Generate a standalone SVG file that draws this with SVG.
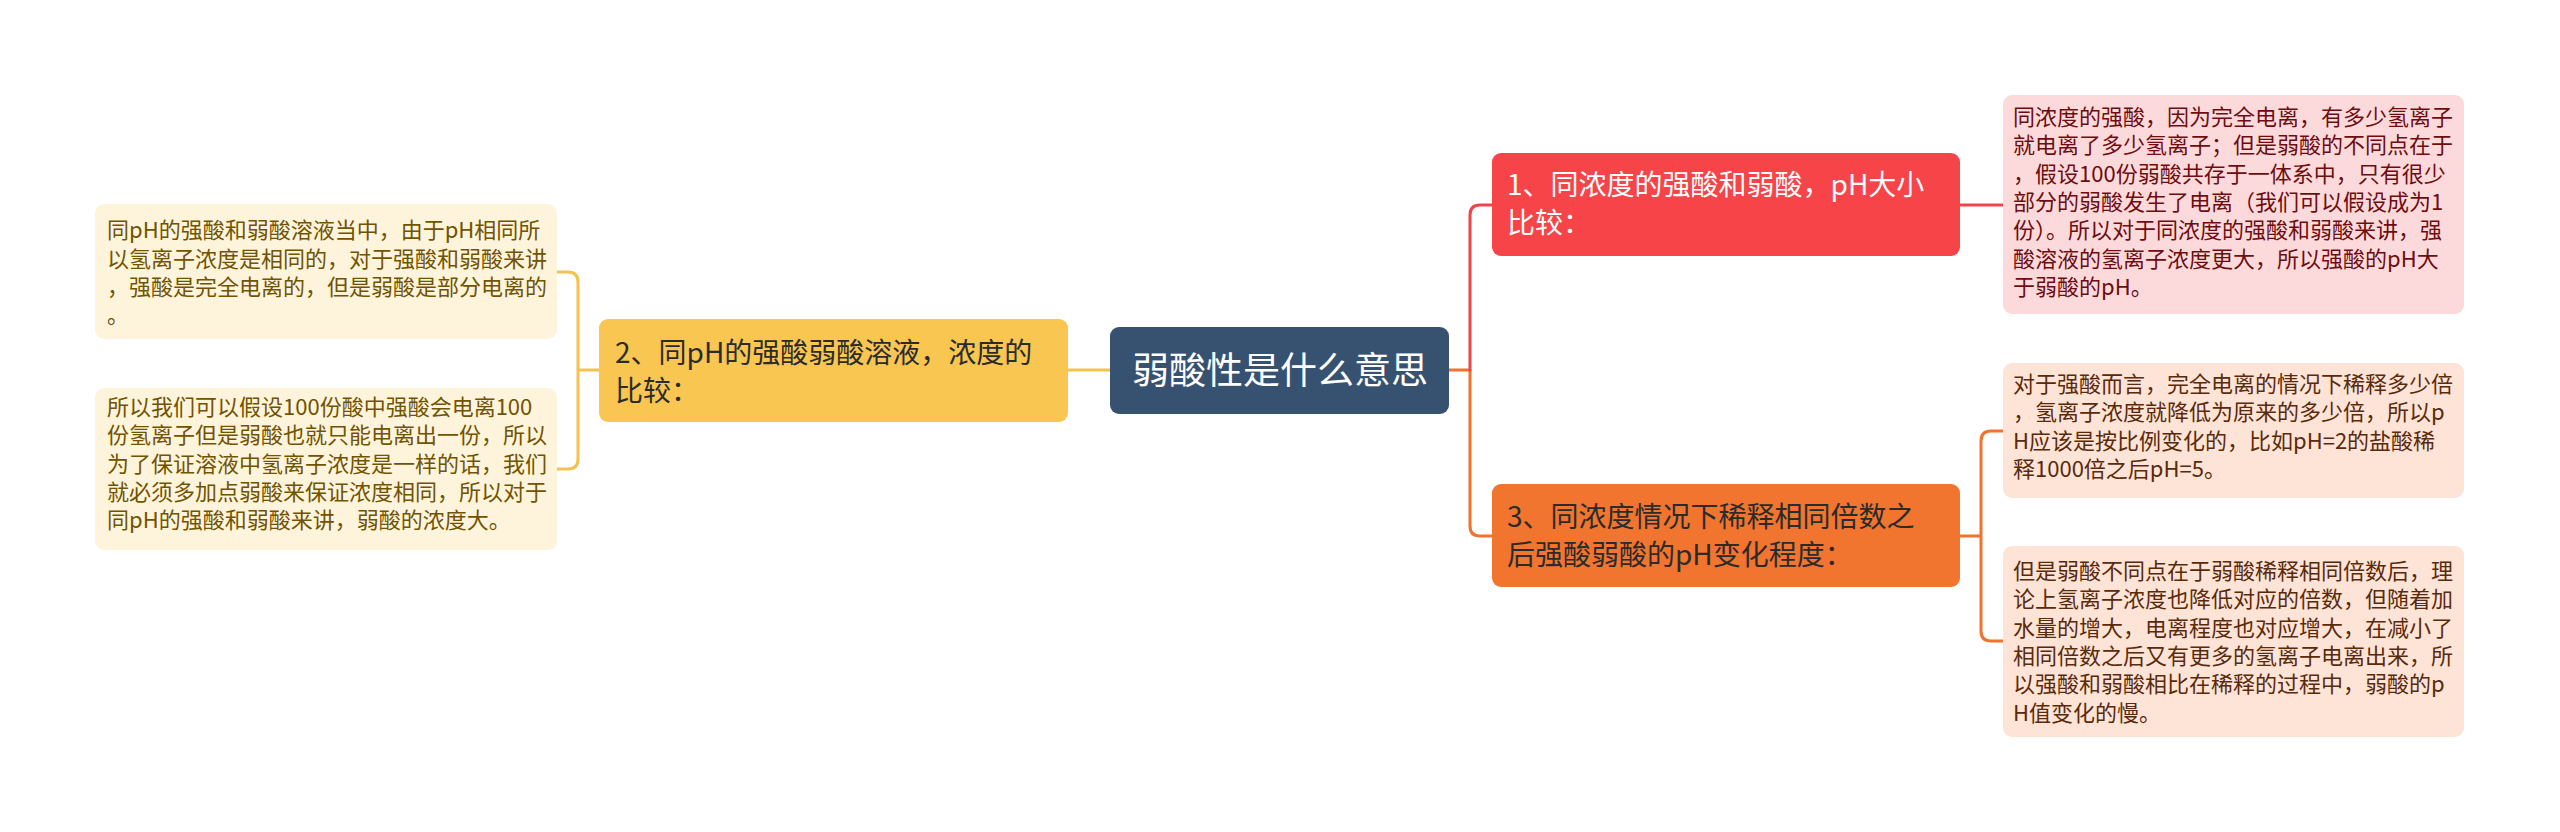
<svg xmlns="http://www.w3.org/2000/svg" width="2560" height="832" viewBox="0 0 2560 832">
<style>
text{font-family:"Noto Sans CJK SC","Noto Sans",sans-serif;}
.c{fill:none;stroke-width:3;stroke-linecap:round;stroke-linejoin:round;}
.main{font-size:28px;}
.det{font-size:22px;}
</style>
<rect width="2560" height="832" fill="#ffffff"/>
<g id="connectors">
<path class="c" stroke="#f5c24f" d="M1110 370 H1068"/>
<path class="c" stroke="#f5c24f" d="M599 370 H578 M557 272 H568 Q578 272 578 282 V459 Q578 469 568 469 H557"/>
<path class="c" stroke="#f0732f" d="M1449 370 H1470 V526 Q1470 536 1480 536 H1492"/>
<path class="c" stroke="#f0444a" d="M1470 370 V215 Q1470 205 1480 205 H1492"/>
<path class="c" stroke="#f0444a" d="M1960 205 H2003"/>
<path class="c" stroke="#f0732f" d="M1960 536 H1981 M2003 431 H1991 Q1981 431 1981 441 V631 Q1981 641 1991 641 H2003"/>
</g>
<g id="center">
<rect x="1110" y="327" width="339" height="87" rx="9" fill="#375271"/>
<text x="1280" y="384" font-size="37" fill="#ffffff" text-anchor="middle">弱酸性是什么意思</text>
</g>
<g id="branch2">
<rect x="599" y="319" width="469" height="103" rx="9" fill="#f8c651"/>
<text class="main" fill="#2b2b2b"><tspan x="615" y="363">2、同pH的强酸弱酸溶液，浓度的</tspan><tspan x="615" y="401">比较：</tspan></text>
</g>
<g id="detail2a">
<rect x="95" y="204" width="462" height="135" rx="9" fill="#fef4dc"/>
<text class="det" fill="#715300"><tspan x="107" y="238">同pH的强酸和弱酸溶液当中，由于pH相同所</tspan><tspan x="107" y="267">以氢离子浓度是相同的，对于强酸和弱酸来讲</tspan><tspan x="107" y="295">，强酸是完全电离的，但是弱酸是部分电离的</tspan><tspan x="107" y="323">。</tspan></text>
</g>
<g id="detail2b">
<rect x="95" y="388" width="462" height="162" rx="9" fill="#fef4dc"/>
<text class="det" fill="#715300"><tspan x="107" y="415">所以我们可以假设100份酸中强酸会电离100</tspan><tspan x="107" y="443">份氢离子但是弱酸也就只能电离出一份，所以</tspan><tspan x="107" y="472">为了保证溶液中氢离子浓度是一样的话，我们</tspan><tspan x="107" y="500">就必须多加点弱酸来保证浓度相同，所以对于</tspan><tspan x="107" y="528">同pH的强酸和弱酸来讲，弱酸的浓度大。</tspan></text>
</g>
<g id="branch1">
<rect x="1492" y="153" width="468" height="103" rx="9" fill="#f64449"/>
<text class="main" fill="#ffffff"><tspan x="1507" y="195">1、同浓度的强酸和弱酸，pH大小</tspan><tspan x="1507" y="233">比较：</tspan></text>
</g>
<g id="detail1">
<rect x="2003" y="95" width="461" height="219" rx="9" fill="#fcdadb"/>
<text class="det" fill="#6e0c10"><tspan x="2013" y="125">同浓度的强酸，因为完全电离，有多少氢离子</tspan><tspan x="2013" y="153">就电离了多少氢离子；但是弱酸的不同点在于</tspan><tspan x="2013" y="182">，假设100份弱酸共存于一体系中，只有很少</tspan><tspan x="2013" y="210">部分的弱酸发生了电离（我们可以假设成为1</tspan><tspan x="2013" y="238">份）。所以对于同浓度的强酸和弱酸来讲，强</tspan><tspan x="2013" y="267">酸溶液的氢离子浓度更大，所以强酸的pH大</tspan><tspan x="2013" y="295">于弱酸的pH。</tspan></text>
</g>
<g id="branch3">
<rect x="1492" y="484" width="468" height="103" rx="9" fill="#f1742f"/>
<text class="main" fill="#2b2b2b"><tspan x="1507" y="527">3、同浓度情况下稀释相同倍数之</tspan><tspan x="1507" y="565">后强酸弱酸的pH变化程度：</tspan></text>
</g>
<g id="detail3a">
<rect x="2003" y="363" width="461" height="135" rx="9" fill="#fde4d7"/>
<text class="det" fill="#5a2a0b"><tspan x="2013" y="392">对于强酸而言，完全电离的情况下稀释多少倍</tspan><tspan x="2013" y="420">，氢离子浓度就降低为原来的多少倍，所以p</tspan><tspan x="2013" y="449">H应该是按比例变化的，比如pH=2的盐酸稀</tspan><tspan x="2013" y="477">释1000倍之后pH=5。</tspan></text>
</g>
<g id="detail3b">
<rect x="2003" y="546" width="461" height="191" rx="9" fill="#fde4d7"/>
<text class="det" fill="#5a2a0b"><tspan x="2013" y="579">但是弱酸不同点在于弱酸稀释相同倍数后，理</tspan><tspan x="2013" y="607">论上氢离子浓度也降低对应的倍数，但随着加</tspan><tspan x="2013" y="636">水量的增大，电离程度也对应增大，在减小了</tspan><tspan x="2013" y="664">相同倍数之后又有更多的氢离子电离出来，所</tspan><tspan x="2013" y="692">以强酸和弱酸相比在稀释的过程中，弱酸的p</tspan><tspan x="2013" y="721">H值变化的慢。</tspan></text>
</g>
</svg>
